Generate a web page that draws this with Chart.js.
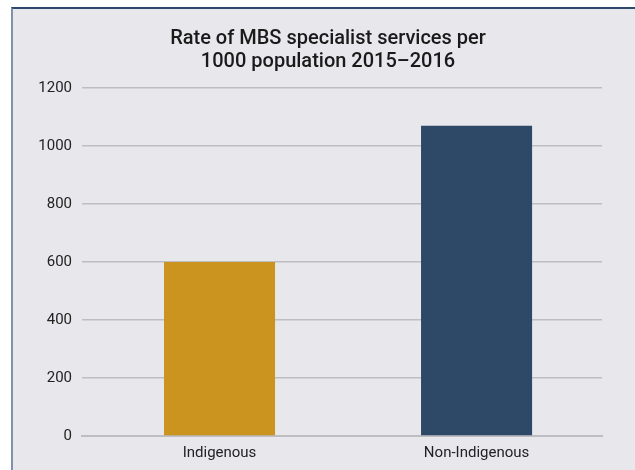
<!DOCTYPE html>
<html>
<head>
<meta charset="utf-8">
<script src="https://cdn.jsdelivr.net/npm/chart.js@4"></script>
<style>
  html, body { margin: 0; padding: 0; background: #ffffff; overflow: hidden; }
  #frame {
    position: absolute; left: 11px; top: 7px; width: 640px; height: 470px;
    background: #e8e7ec;
    border-left: 2px solid #7f91ad;
    border-top: 2px solid #2d4a6e;
  }
  #wrap { position: absolute; left: 0; top: 0; width: 640px; height: 463px; }
</style>
</head>
<body>
<div id="frame"><div id="wrap"><canvas id="barchart"></canvas></div></div>
<script>
const categories = ['Indigenous', 'Non-Indigenous'];
const rates = [600, 1070];
const barColours = ['#cb941f', '#2e4868'];
const titleLines = ['Rate of MBS specialist services per', '1000 population 2015\u20132016'];

// x is linear over category indices so the bars can sit slightly off the even split, as in the original
const points = rates.map((r, i) => ({ x: i, y: r }));

const data = {
  datasets: [{
    label: 'Rate per 1000',
    data: points,
    backgroundColor: barColours,
    borderWidth: 0,
    barPercentage: 0.432,
    categoryPercentage: 1
  }]
};

new Chart(
  document.getElementById('barchart'),
  {
    type: 'bar',
    data: data,
    options: {
      responsive: true,
      maintainAspectRatio: false,
      animation: false,
      layout: { padding: { left: 0, right: 10, top: 0, bottom: 2 } },
      plugins: {
        legend: { display: false },
        tooltip: { enabled: false },
        title: {
          display: true,
          text: titleLines,
          color: '#1a1a1a',
          font: { family: 'Roboto', size: 20, weight: '500', lineHeight: 1.15 },
          padding: { top: 18, bottom: 15 }
        }
      },
      scales: {
        x: {
          type: 'linear',
          offset: false,
          min: -0.535,
          max: 1.488,
          grid: { display: false, drawTicks: false, offset: false },
          border: { display: true, color: '#bdbdc2', width: 2 },
          ticks: {
            stepSize: 1, includeBounds: false, autoSkip: false,
            color: '#222', font: { family: 'Roboto', size: 15 }, padding: 8,
            callback: v => categories[v] ?? ''
          }
        },
        y: {
          beginAtZero: true,
          min: 0,
          max: 1200,
          afterFit: s => { s.width = 69; },
          ticks: {
            stepSize: 200, color: '#222', font: { family: 'Roboto', size: 15 }, padding: 10,
            callback: v => String(v)
          },
          grid: { color: '#bdbdc2', lineWidth: 1.5, drawTicks: false },
          border: { display: false }
        },
        spare: {
          position: 'right',
          display: true,
          afterFit: s => { s.width = 41; },
          ticks: { display: false },
          grid: { display: false, drawTicks: false },
          border: { display: false }
        }
      }
    }
  }
);
</script>
</body>
</html>
